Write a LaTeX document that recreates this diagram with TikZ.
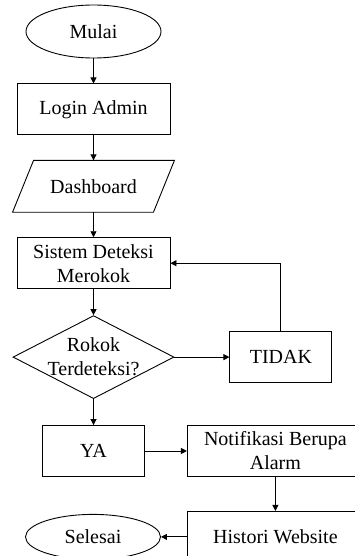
\documentclass[tikz,border=0pt]{standalone}
\usepackage{fontspec}
\setmainfont{Liberation Serif}
\usepackage{tikz}
\usetikzlibrary{arrows.meta}
\usetikzlibrary{positioning}
\usetikzlibrary{shapes.geometric}
\tikzset{
  base/.style={draw, line width=0.9pt, font=\fontsize{20}{24}\selectfont, align=center, inner sep=0pt},
  terminal/.style={base, ellipse, minimum width=135pt, minimum height=53pt},
  proses/.style={base, rectangle, minimum width=153pt, minimum height=51pt},
  kotak/.style={base, rectangle, minimum width=102pt, minimum height=51pt},
  lebar/.style={base, rectangle, minimum width=176pt, minimum height=51pt},
  data/.style={base, draw=none, rectangle, minimum width=140pt, minimum height=51pt},
  keputusan/.style={base, diamond, minimum width=161pt, minimum height=83pt},
  panah/.style={-{Triangle[length=6pt,width=6pt]}, line width=0.9pt},
}
\begin{document}
\begin{tikzpicture}[node distance=25pt]
    \useasboundingbox (0,0) rectangle (355pt,-556pt);

    \node[terminal] (mulai) at (93.5pt,-31.5pt) {Mulai};
    \node[proses, below=of mulai] (login) {Login Admin};
    \node[data, below=of login] (dash) {Dashboard};
    \node[proses, below=of dash] (sistem) {Sistem Deteksi\\Merokok};
    \node[keputusan, below=26pt of sistem,
      label={[base, draw=none]center:Rokok\\Terdeteksi?}] (cek) {};
    \node[kotak, right=55pt of cek] (tidak) {TIDAK};
    \node[kotak, below=26pt of cek] (ya) {YA};
    \node[lebar, right=42pt of ya] (notif) {Notifikasi Berupa\\Alarm};
    \node[lebar, below=34pt of notif] (histori) {Histori Website};
    \node[terminal, minimum height=45pt, left=26pt of histori] (selesai) {Selesai};

    \draw[line width=0.9pt] ([xshift=10.5pt]dash.north west) -- ([xshift=10.5pt]dash.north east)
      -- ([xshift=-10.5pt]dash.south east) -- ([xshift=-10.5pt]dash.south west) -- cycle;

    \draw[panah] (mulai) -- (login);
    \draw[panah] (login) -- (dash);
    \draw[panah] (dash) -- (sistem);
    \draw[panah] (sistem) -- (cek);
    \draw[panah] (cek) -- (tidak);
    \draw[panah] (tidak.north) |- (sistem.east);
    \draw[panah] (cek) -- (ya);
    \draw[panah] (ya) -- (notif);
    \draw[panah] (notif) -- (histori);
    \draw[panah] (histori) -- (selesai);
\end{tikzpicture}
\end{document}
